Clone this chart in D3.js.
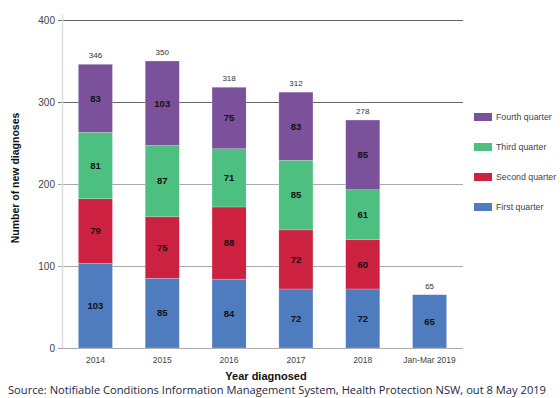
<!DOCTYPE html>
<html><head><meta charset="utf-8">
<script src="https://cdn.jsdelivr.net/npm/d3@7"></script>
<style>body{margin:0;background:#fff}svg{display:block}</style>
</head><body>
<script>
const categories = ["2014","2015","2016","2017","2018","Jan-Mar 2019"];
const firstQuarter  = [103, 85, 84, 72, 72, 65];
const secondQuarter = [79, 75, 88, 72, 60, 0];
const thirdQuarter  = [81, 87, 71, 85, 61, 0];
const fourthQuarter = [83, 103, 75, 83, 85, 0];
const totals = [346, 350, 318, 312, 278, 65];
const seriesNames = ["First quarter","Second quarter","Third quarter","Fourth quarter"];
const seriesColors = ["#4f7cbf","#cc2140","#4dbf80","#7a519a"];
const yTicks = [0,100,200,300,400];

const W=560,H=398;
const svg=d3.select("body").append("svg").attr("width",W).attr("height",H);
const x=d3.scaleBand().domain(categories).range([62,463]).paddingInner(0.49).paddingOuter(0.245);
const y=d3.scaleLinear().domain([0,400]).range([348,20]);

svg.append("g").selectAll("line").data(yTicks).join("line")
  .attr("x1",58).attr("x2",463).attr("y1",d=>y(d)+0.5).attr("y2",d=>y(d)+0.5)
  .attr("stroke",d=>d>=300?"#666":"#aaa").attr("stroke-width",1);
svg.append("line").attr("x1",62.5).attr("x2",62.5).attr("y1",14).attr("y2",348).attr("stroke","#ddd").attr("stroke-width",1.5);
svg.append("g").selectAll("text").data(yTicks).join("text")
  .attr("x",55).attr("y",d=>y(d)).attr("dy","0.35em").attr("text-anchor","end")
  .attr("font-family","Liberation Sans, Arial, sans-serif").attr("font-size",10).attr("fill","#444").text(d=>d);

const rows=categories.map((c,i)=>({cat:c,s0:firstQuarter[i],s1:secondQuarter[i],s2:thirdQuarter[i],s3:fourthQuarter[i]}));
const stack=d3.stack().keys(["s0","s1","s2","s3"])(rows);
const g=svg.append("g");
stack.forEach((layer,li)=>{
  layer.forEach(d=>{
    if(d[1]-d[0]<=0) return;
    g.append("rect").attr("x",x(d.data.cat)).attr("width",x.bandwidth())
      .attr("y",y(d[1])).attr("height",y(d[0])-y(d[1])).attr("fill",seriesColors[li])
      .attr("stroke","rgba(255,255,255,0.35)").attr("stroke-width",0.6);
    g.append("text").attr("x",x(d.data.cat)+x.bandwidth()/2).attr("y",(y(d[0])+y(d[1]))/2).attr("dy","0.35em")
      .attr("text-anchor","middle").attr("font-family","Liberation Sans, Arial, sans-serif")
      .attr("font-size",9.5).attr("font-weight","bold").attr("fill","#111").text(d[1]-d[0]);
  });
});
svg.append("g").selectAll("text").data(categories).join("text")
  .attr("x",d=>x(d)+x.bandwidth()/2).attr("y",(d,i)=>y(totals[i])-6)
  .attr("text-anchor","middle").attr("font-family","Liberation Sans, Arial, sans-serif")
  .attr("font-size",8).attr("fill","#333").text((d,i)=>totals[i]);
svg.append("g").selectAll("text").data(categories).join("text")
  .attr("x",d=>x(d)+x.bandwidth()/2).attr("y",363)
  .attr("text-anchor","middle").attr("font-family","Liberation Sans, Arial, sans-serif")
  .attr("font-size",8.5).attr("fill","#444").text(d=>d);
svg.append("text").attr("x",266).attr("y",380).attr("text-anchor","middle")
  .attr("font-family","Liberation Sans, Arial, sans-serif").attr("font-size",11).attr("font-weight","bold").attr("fill","#111").text("Year diagnosed");
svg.append("text").attr("transform","translate(19,178) rotate(-90)").attr("text-anchor","middle")
  .attr("font-family","Liberation Sans, Arial, sans-serif").attr("font-size",10.5).attr("font-weight","bold").attr("fill","#111").text("Number of new diagnoses");
const legOrder=[3,2,1,0];
const lg=svg.append("g");
legOrder.forEach((si,k)=>{
  const yy=117+k*30;
  lg.append("rect").attr("x",474).attr("y",yy-4).attr("width",18).attr("height",8).attr("fill",seriesColors[si]);
  lg.append("text").attr("x",496).attr("y",yy).attr("dy","0.35em").attr("font-family","Liberation Sans, Arial, sans-serif")
    .attr("font-size",8.8).attr("fill","#444").text(seriesNames[si]);
});
svg.append("text").attr("x",8).attr("y",394).attr("font-family","Open Sans, sans-serif").attr("font-size",11)
  .attr("fill","#1c2741").attr("textLength",538).attr("lengthAdjust","spacingAndGlyphs")
  .text("Source: Notifiable Conditions Information Management System, Health Protection NSW, out 8 May 2019");
</script>
</body></html>
